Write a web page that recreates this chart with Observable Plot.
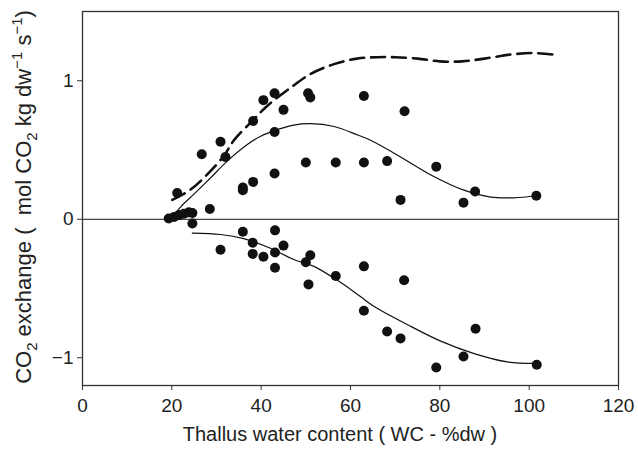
<!DOCTYPE html>
<html>
<head>
<meta charset="utf-8">
<script src="https://cdn.jsdelivr.net/npm/d3@7"></script>
<script src="https://cdn.jsdelivr.net/npm/@observablehq/plot@0.6"></script>
<style>
  html, body { margin: 0; padding: 0; background: #fff; }
  #chart svg { display: block; }
</style>
</head>
<body>
<div id="chart"></div>
<script>
// Measured CO2 exchange: gross photosynthesis (upper cloud) and respiration (lower cloud)
const upperWC = [19.3, 20.5, 21.6, 22.7, 23.8, 24.6, 24.6, 21.2, 26.7, 28.5, 30.9, 32.0, 35.9, 35.9, 38.2, 38.2, 40.5, 43.0, 43.0, 43.0, 45.0, 50.0, 50.5, 51.0, 56.7, 63.0, 63.0, 68.2, 71.2, 72.1, 79.2, 85.3, 87.9, 101.6];
const upperCO2 = [0.005, 0.017, 0.03, 0.04, 0.05, 0.045, -0.03, 0.19, 0.47, 0.074, 0.56, 0.45, 0.21, 0.23, 0.27, 0.71, 0.86, 0.91, 0.63, 0.33, 0.79, 0.41, 0.91, 0.88, 0.41, 0.89, 0.41, 0.42, 0.14, 0.78, 0.38, 0.12, 0.20, 0.17];

const lowerWC = [30.9, 35.9, 38.1, 38.1, 40.5, 43.1, 43.1, 43.1, 45.0, 50.0, 51.0, 50.6, 56.7, 63.0, 72.0, 63.0, 68.2, 71.2, 88.0, 85.3, 79.2, 101.7];
const lowerCO2 = [-0.22, -0.09, -0.17, -0.25, -0.27, -0.08, -0.24, -0.35, -0.19, -0.31, -0.26, -0.47, -0.41, -0.34, -0.44, -0.66, -0.81, -0.86, -0.79, -0.99, -1.07, -1.05];

// Fitted response curves
const fitUpWC = [20.3, 22.0, 24.9, 28.7, 32.4, 36.9, 39.9, 43.0, 47.3, 51.1, 56.3, 61.5, 64.5, 71.2, 78.0, 85.4, 91.4, 96.6, 101.7];
const fitUpCO2 = [0.02, 0.09, 0.18, 0.30, 0.42, 0.54, 0.60, 0.64, 0.68, 0.69, 0.67, 0.61, 0.57, 0.45, 0.32, 0.21, 0.16, 0.155, 0.17];

const fitLowWC = [24.6, 30.9, 36.1, 41.4, 47.3, 51.8, 57.5, 62.3, 65.3, 72.7, 80.2, 87.7, 95.1, 101.7];
const fitLowCO2 = [-0.10, -0.11, -0.14, -0.20, -0.29, -0.34, -0.45, -0.56, -0.63, -0.76, -0.88, -0.97, -1.03, -1.04];

// Net photosynthesis envelope (dashed)
const netWC = [20.1, 24.0, 27.2, 31.7, 33.9, 38.0, 41.4, 46.6, 51.1, 56.3, 61.5, 66.0, 70.0, 75.0, 80.0, 85.0, 90.0, 96.0, 101.0, 105.2];
const netCO2 = [0.14, 0.21, 0.30, 0.46, 0.57, 0.71, 0.82, 0.95, 1.05, 1.12, 1.16, 1.17, 1.17, 1.16, 1.14, 1.14, 1.16, 1.19, 1.20, 1.19];

const xTicks = [0, 20, 40, 60, 80, 100, 120];
const yTicks = [-1, 0, 1];

const zip = (xs, ys) => xs.map((x, i) => ({x, y: ys[i]}));
const points = [...zip(upperWC, upperCO2), ...zip(lowerWC, lowerCO2)];

const font = "'Liberation Sans', Arial, sans-serif";

const chart = Plot.plot({
  width: 638,
  height: 449,
  marginLeft: 82,
  marginRight: 20,
  marginTop: 11,
  marginBottom: 64,
  style: {fontFamily: font, fontSize: "19px", color: "#222"},
  x: {domain: [0, 120]},
  y: {domain: [-1.2, 1.5]},
  marks: [
    Plot.ruleY([0], {stroke: "#444", strokeWidth: 1.3}),
    Plot.line(zip(netWC, netCO2), {x: "x", y: "y", curve: "catmull-rom", stroke: "#111", strokeWidth: 2.6, strokeDasharray: "14,7"}),
    Plot.line(zip(fitUpWC, fitUpCO2), {x: "x", y: "y", curve: "catmull-rom", stroke: "#111", strokeWidth: 1.2}),
    Plot.line(zip(fitLowWC, fitLowCO2), {x: "x", y: "y", curve: "catmull-rom", stroke: "#111", strokeWidth: 1.2}),
    Plot.dot(points, {x: "x", y: "y", r: 5, fill: "#111", stroke: "none"}),
    Plot.frame({stroke: "#333", strokeWidth: 1.3}),
    Plot.axisX({ticks: xTicks, tickSize: 5, tickPadding: 8, fontSize: 19, stroke: "#333", label: null}),
    Plot.axisY({ticks: yTicks, tickSize: 5, tickPadding: 4, fontSize: 19, stroke: "#333",
      tickFormat: d => d < 0 ? "\u2212" + Math.abs(d) : String(d), label: null})
  ]
});

document.getElementById("chart").appendChild(chart);

const svg = d3.select(chart);

// x-axis title
svg.append("text")
  .attr("x", 340)
  .attr("y", 441)
  .attr("text-anchor", "middle")
  .attr("font-family", font)
  .attr("font-size", 20)
  .attr("fill", "#222")
  .text("Thallus water content ( WC - %dw )");

// Rotated y-axis title with chemical subscripts and unit superscripts
const t = svg.append("text")
  .attr("transform", "translate(31,197) rotate(-90)")
  .attr("text-anchor", "middle")
  .attr("font-family", font)
  .attr("font-size", 22)
  .attr("fill", "#222");
const parts = [
  ["CO", 0], ["2", 6], [" exchange (  mol CO", 0], ["2", 6], [" kg dw", 0], ["\u22121", -9], [" s", 0], ["\u22121", -9], [")", 0]
];
let offset = 0;
for (const [txt, target] of parts) {
  t.append("tspan")
    .attr("dy", target - offset)
    .attr("font-size", target === 0 ? 22 : 15)
    .text(txt);
  offset = target;
}
</script>
</body>
</html>
